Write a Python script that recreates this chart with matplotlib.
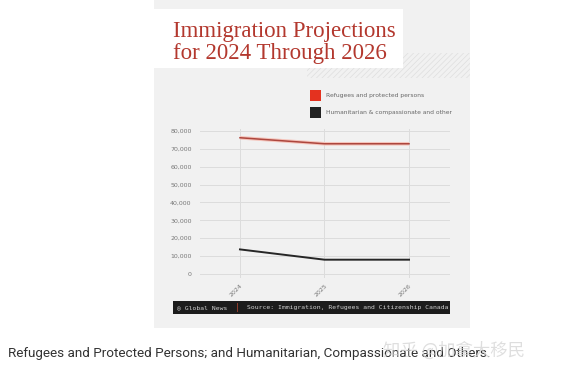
import matplotlib
matplotlib.use("Agg")
import matplotlib.pyplot as plt
from matplotlib.patches import Rectangle
import numpy as np

years = ["2024", "2025", "2026"]
refugees = [76115, 72750, 72750]
humanitarian = [13750, 8000, 8000]
yticks = [0, 10000, 20000, 30000, 40000, 50000, 60000, 70000, 80000]
series_names = ["Refugees and protected persons", "Humanitarian & compassionate and other"]

W, H = 568, 374
fig = plt.figure(figsize=(W/100, H/100), dpi=100)
fig.patch.set_facecolor("white")

def fx(px): return px / W
def fy(py): return 1 - py / H

plt.rcParams["hatch.linewidth"] = 0.5

# gray panel
bg = fig.add_axes([0, 0, 1, 1], zorder=0)
bg.set_xlim(0, W); bg.set_ylim(H, 0); bg.axis("off")
bg.add_patch(Rectangle((154, 0), 316, 328, facecolor="#f1f1f1", edgecolor="none"))
# hatch behind title box
bg.add_patch(Rectangle((307, 53), 163, 25, facecolor="#f1f1f1", edgecolor="#dedede",
                       hatch="//////", linewidth=0))
# white title box
bg.add_patch(Rectangle((154, 9), 249, 59, facecolor="white", edgecolor="none"))
bg.text(173, 37, "Immigration Projections", fontsize=16.5, family="Liberation Serif",
        color="#b3382e", va="baseline", ha="left")
bg.text(173, 59, "for 2024 Through 2026", fontsize=16.5, family="Liberation Serif",
        color="#b3382e", va="baseline", ha="left")

# legend
bg.add_patch(Rectangle((310, 90), 11, 11, facecolor="#e4321f", edgecolor="none"))
bg.add_patch(Rectangle((310, 107), 11, 11, facecolor="#222222", edgecolor="none"))
bg.text(326, 95.5, series_names[0], fontsize=4.3, color="#666666", va="center", ha="left")
bg.text(326, 112.5, series_names[1], fontsize=4.3, color="#666666", va="center", ha="left")

# footer bar
bg.add_patch(Rectangle((173, 301), 277, 13, facecolor="#1c1c1c", edgecolor="none"))
bg.text(177, 307.5, "\u25ce Global News", fontsize=4.6, family="DejaVu Sans Mono",
        color="#d0d0d0", va="center", ha="left")
bg.add_patch(Rectangle((236.5, 303), 1.5, 9, facecolor="#8a3a2a", edgecolor="none"))
bg.text(247, 307.5, "Source: Immigration, Refugees and Citizenship Canada", fontsize=4.6,
        family="DejaVu Sans Mono", color="#d0d0d0", va="center", ha="left")

# caption + watermark
bg.text(8, 353, "Refugees and Protected Persons; and Humanitarian, Compassionate and Others.",
        fontsize=9.7, family="Roboto", color="#333333", va="center", ha="left")
bg.text(383, 351, "知乎 @加拿大移民", fontsize=12.5, family=["Noto Sans CJK SC", "DejaVu Sans"],
        color="#d4d4d4", alpha=0.75, va="center", ha="left")

# chart axes
left, right = 200, 450
top, bottom = 129, 277.6
ax = fig.add_axes([fx(left), fy(bottom), (right-left)/W, (bottom-top)/H], zorder=2)
ax.set_facecolor("none")
x = np.arange(len(years))
ax.plot(x, refugees, color="#f5c4bb", lw=2.6, solid_capstyle="butt", zorder=2)
ax.plot(x, refugees, color="#ad463d", lw=1.1, zorder=3)
ax.plot(x, humanitarian, color="#262626", lw=1.4, zorder=3)
ax.set_xlim(-0.473, 2.485)
ax.set_ylim(-2000, 81000)
ax.set_yticks(yticks)
ax.set_yticklabels([f"{v:,}" for v in yticks])
ax.set_xticks(x)
ax.set_xticklabels(years, rotation=45, ha="right", rotation_mode="anchor")
ax.tick_params(axis="both", length=0, labelsize=4.5, labelcolor="#777777")
ax.tick_params(axis="y", pad=6)
ax.tick_params(axis="x", pad=4)
ax.grid(True, color="#dcdcdc", lw=0.7)
ax.set_axisbelow(True)
for s in ax.spines.values():
    s.set_visible(False)

fig.savefig("out.png", dpi=100)
